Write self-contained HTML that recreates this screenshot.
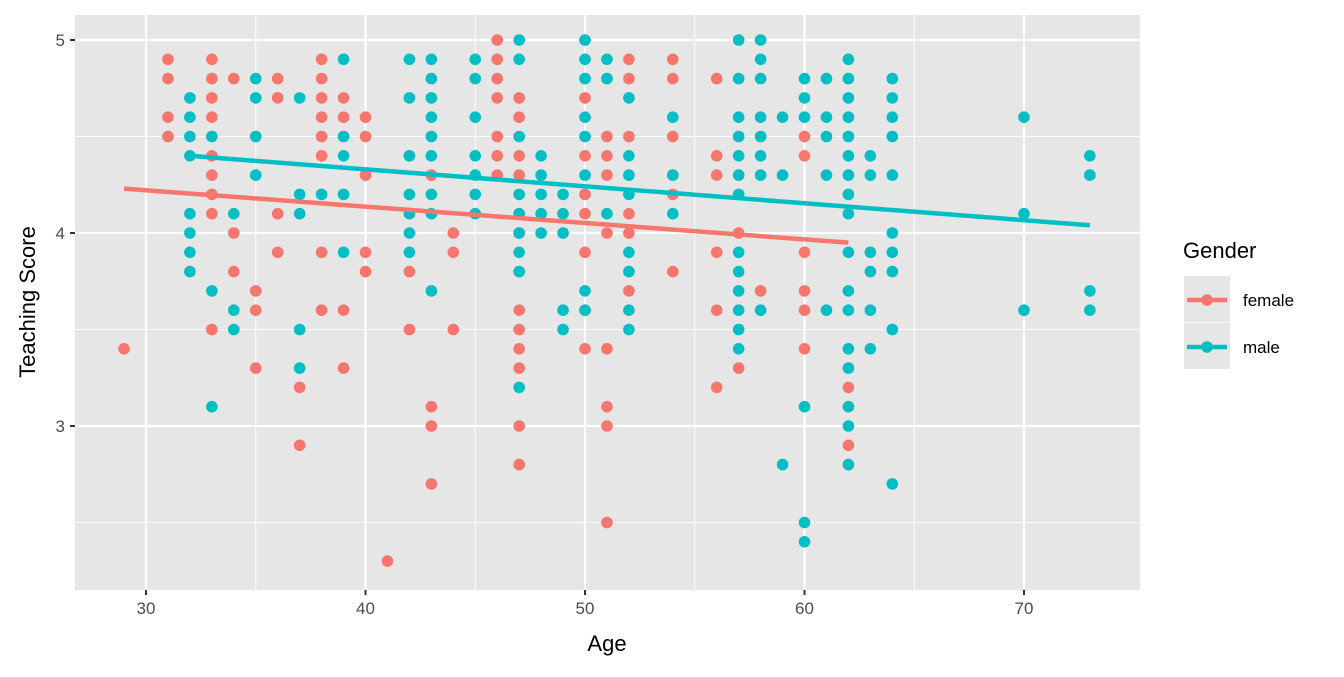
<!DOCTYPE html>
<html><head><meta charset="utf-8"><style>
body{margin:0;background:#fff;}
svg text{font-family:"Liberation Sans",Arial,sans-serif;}
</style></head><body>
<svg width="1344" height="672" xmlns="http://www.w3.org/2000/svg">
<g id="plot"></g>
</svg>
<script>
const femaleAges=[29,31,31,31,31,33,33,33,33,33,33,33,33,33,34,34,34,35,35,35,36,36,36,36,37,37,38,38,38,38,38,38,38,38,39,39,39,39,40,40,40,40,40,41,42,42,42,42,43,43,43,43,44,44,44,46,46,46,46,46,46,46,47,47,47,47,47,47,47,47,47,47,47,50,50,50,50,50,50,50,51,51,51,51,51,51,51,51,52,52,52,52,52,52,54,54,54,54,54,56,56,56,56,56,56,57,57,58,60,60,60,60,60,60,62,62];
const femaleScores=[3.4,4.9,4.8,4.6,4.5,4.9,4.8,4.7,4.6,4.4,4.3,4.2,4.1,3.5,4.8,4.0,3.8,3.7,3.6,3.3,4.8,4.7,4.1,3.9,3.2,2.9,4.9,4.8,4.7,4.6,4.5,4.4,3.9,3.6,4.7,4.6,3.6,3.3,4.6,4.5,4.3,3.9,3.8,2.3,4.4,4.1,3.8,3.5,4.3,3.1,3.0,2.7,4.0,3.9,3.5,5.0,4.9,4.8,4.7,4.5,4.4,4.3,4.7,4.6,4.4,4.3,4.0,3.6,3.5,3.4,3.3,3.0,2.8,4.7,4.4,4.2,4.1,3.9,3.6,3.4,4.5,4.4,4.3,4.0,3.4,3.1,3.0,2.5,4.9,4.8,4.5,4.1,4.0,3.7,4.9,4.8,4.5,4.2,3.8,4.8,4.4,4.3,3.9,3.6,3.2,4.0,3.3,3.7,4.5,4.4,3.9,3.7,3.6,3.4,3.2,2.9];
const maleAges=[32,32,32,32,32,32,32,32,33,33,33,34,34,34,35,35,35,35,37,37,37,37,37,38,39,39,39,39,39,42,42,42,42,42,42,42,43,43,43,43,43,43,43,43,43,45,45,45,45,45,45,45,47,47,47,47,47,47,47,47,47,48,48,48,48,48,49,49,49,49,49,50,50,50,50,50,50,50,50,51,51,51,52,52,52,52,52,52,52,52,54,54,54,57,57,57,57,57,57,57,57,57,57,57,57,57,58,58,58,58,58,58,58,58,59,59,59,60,60,60,60,60,60,61,61,61,61,61,62,62,62,62,62,62,62,62,62,62,62,62,62,62,62,62,62,63,63,63,63,63,63,64,64,64,64,64,64,64,64,64,64,70,70,70,73,73,73,73];
const maleScores=[4.7,4.6,4.5,4.4,4.1,4.0,3.9,3.8,4.5,3.7,3.1,4.1,3.6,3.5,4.8,4.7,4.5,4.3,4.7,4.2,4.1,3.5,3.3,4.2,4.9,4.5,4.4,4.2,3.9,4.9,4.7,4.4,4.2,4.1,4.0,3.9,4.9,4.8,4.7,4.6,4.5,4.4,4.2,4.1,3.7,4.9,4.8,4.6,4.4,4.3,4.2,4.1,5.0,4.9,4.5,4.2,4.1,4.0,3.9,3.8,3.2,4.4,4.3,4.2,4.1,4.0,4.2,4.1,4.0,3.6,3.5,5.0,4.9,4.8,4.6,4.5,4.3,3.7,3.6,4.9,4.8,4.1,4.7,4.4,4.3,4.2,3.9,3.8,3.6,3.5,4.6,4.3,4.1,5.0,4.8,4.6,4.5,4.4,4.3,4.2,3.9,3.8,3.7,3.6,3.5,3.4,5.0,4.9,4.8,4.6,4.5,4.4,4.3,3.6,4.6,4.3,2.8,4.8,4.7,4.6,3.1,2.5,2.4,4.8,4.6,4.5,4.3,3.6,4.9,4.8,4.7,4.6,4.5,4.4,4.3,4.2,4.1,3.9,3.7,3.6,3.4,3.3,3.1,3.0,2.8,4.4,4.3,3.9,3.8,3.6,3.4,4.8,4.7,4.6,4.5,4.3,4.0,3.9,3.8,3.5,2.7,4.6,4.1,3.6,4.4,4.3,3.7,3.6];
const femaleLine=[[29,4.23],[62,3.95]];
const maleLine=[[32,4.40],[73,4.04]];
const xTicks=[30,40,50,60,70];
const yTicks=[3,4,5];
const NS="http://www.w3.org/2000/svg";
const L=75,R=1140,T=15,B=590;
const sx=a=>146+(a-30)*21.95;
const sy=v=>233-(v-4)*193;
const g=document.getElementById('plot');
function mk(tag,at,parent){const e=document.createElementNS(NS,tag);for(const k in at)e.setAttribute(k,at[k]);(parent||g).appendChild(e);return e;}
const panel=mk('rect',{x:L,y:T,width:R-L,height:B-T,fill:'#e6e6e6'});


[35,45,55,65].forEach(a=>mk('line',{x1:sx(a),x2:sx(a),y1:T,y2:B,stroke:'#fff','stroke-width':1}));
[2.5,3.5,4.5].forEach(v=>mk('line',{x1:L,x2:R,y1:sy(v),y2:sy(v),stroke:'#fff','stroke-width':1}));
xTicks.forEach(a=>{mk('line',{x1:sx(a),x2:sx(a),y1:T,y2:B,stroke:'#fff','stroke-width':2.2});
 mk('line',{x1:sx(a),x2:sx(a),y1:B,y2:B+5,stroke:'#333','stroke-width':2});
 const t=mk('text',{x:sx(a),y:B+24,'text-anchor':'middle','font-size':17,fill:'#4d4d4d'});t.textContent=a;
 
 });
yTicks.forEach(v=>{mk('line',{x1:L,x2:R,y1:sy(v),y2:sy(v),stroke:'#fff','stroke-width':2.2});
 mk('line',{x1:L-5,x2:L,y1:sy(v),y2:sy(v),stroke:'#333','stroke-width':2});
 const t=mk('text',{x:L-10,y:sy(v)+6,'text-anchor':'end','font-size':17,fill:'#4d4d4d'});t.textContent=v;
 
 });
function pts(ages,scores,col,name){ages.forEach((a,i)=>{const c=mk('circle',{cx:sx(a),cy:sy(scores[i]),r:5.8,fill:col});
 
 });}
pts(femaleAges,femaleScores,'#F8766D','female-point');
pts(maleAges,maleScores,'#00BFC4','male-point');
function ln(d,col,name){const l=mk('line',{x1:sx(d[0][0]),y1:sy(d[0][1]),x2:sx(d[1][0]),y2:sy(d[1][1]),stroke:col,'stroke-width':4.5});
 
 }
ln(femaleLine,'#F8766D','female-trend-line');
ln(maleLine,'#00BFC4','male-trend-line');
const xt=mk('text',{x:607,y:651,'text-anchor':'middle','font-size':22,fill:'#000'});xt.textContent='Age';


const yt=mk('text',{x:0,y:0,transform:'translate(35,302) rotate(-90)','text-anchor':'middle','font-size':22,fill:'#000'});yt.textContent='Teaching Score';


const lt=mk('text',{x:1183,y:258,'font-size':22,fill:'#000'});lt.textContent='Gender';


[['female','#F8766D',300],['male','#00BFC4',347]].forEach(([n,c,y])=>{
 const k=mk('rect',{x:1184,y:y-24,width:46,height:46,fill:'#e6e6e6'});
 
 
 mk('line',{x1:1187,x2:1227,y1:y,y2:y,stroke:c,'stroke-width':4.5});
 mk('circle',{cx:1207,cy:y,r:5.8,fill:c});
 const t=mk('text',{x:1243,y:y+6,'font-size':17,fill:'#000'});t.textContent=n;
 
 });
</script>
</body></html>
